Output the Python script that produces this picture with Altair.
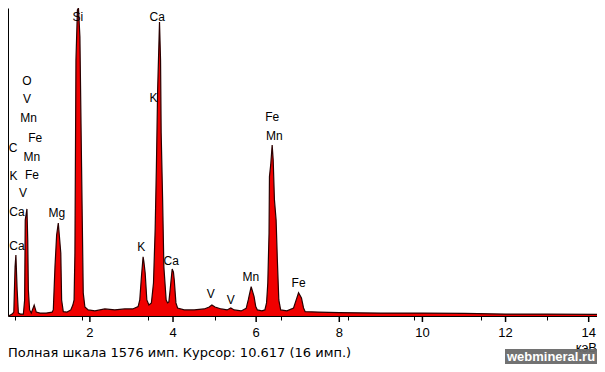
import altair as alt
import pandas as pd

# Spectrum (energy in keV, counts)
energy = [0.04, 0.13, 0.17, 0.20, 0.22, 0.25, 0.28, 0.33, 0.40, 0.43, 0.445, 0.486, 0.505, 0.52, 0.55,
          0.59, 0.66, 0.71, 0.80, 0.95, 1.09, 1.12, 1.16, 1.20, 1.24, 1.27, 1.30, 1.32, 1.36, 1.45,
          1.54, 1.59, 1.62, 1.64, 1.665, 1.70, 1.725, 1.76, 1.80, 1.84, 1.88, 1.96, 2.12, 2.36, 2.60,
          2.84, 3.03, 3.16, 3.20, 3.24, 3.28, 3.30, 3.33, 3.37, 3.42, 3.48, 3.53, 3.57, 3.60, 3.63,
          3.675, 3.70, 3.715, 3.75, 3.78, 3.835, 3.87, 3.90, 3.93, 3.98, 4.01, 4.03, 4.07, 4.11, 4.27,
          4.51, 4.75, 4.87, 4.935, 5.01, 5.16, 5.30, 5.39, 5.47, 5.64, 5.76, 5.81, 5.88, 5.95, 5.99,
          6.03, 6.14, 6.21, 6.25, 6.27, 6.28, 6.31, 6.32, 6.35, 6.385, 6.41, 6.44, 6.48, 6.51, 6.545,
          6.59, 6.74, 6.90, 6.94, 7.02, 7.09, 7.14, 7.18, 7.50, 8.00, 9.0, 10.0, 11.0, 12.0, 13.0, 14.2]
counts = [0, 10, 20, 251, 312, 133, 15, 10, 10, 82, 491, 548, 389, 133, 31,
          15, 56, 20, 15, 15, 20, 31, 251, 414, 476, 399, 322, 82, 22, 20,
          31, 56, 82, 322, 1310, 1566, 1576, 1428, 762, 118, 46, 31, 26, 36, 31,
          36, 36, 48, 82, 201, 303, 276, 220, 82, 56, 67, 169, 440, 762, 1156,
          1504, 1310, 936, 594, 251, 82, 67, 72, 133, 240, 225, 184, 67, 41, 31,
          31, 36, 46, 56, 46, 36, 31, 41, 31, 26, 39, 82, 150, 99, 48,
          31, 26, 31, 67, 133, 169, 425, 713, 773, 875, 798, 594, 491, 287, 82,
          31, 26, 41, 67, 119, 92, 41, 22, 20, 17, 15, 15, 13, 10, 10, 8]

# Peak labels
label_text = ["Si", "Ca", "K", "O", "V", "Mn", "Fe", "C", "Mn", "K", "Fe", "V", "Ca", "Mg", "Ca",
              "K", "Ca", "V", "V", "Mn", "Fe", "Mn", "Fe"]
label_e = [1.71, 3.62, 3.53, 0.486, 0.486, 0.524, 0.684, 0.151, 0.605, 0.165, 0.605, 0.39, 0.246, 1.203, 0.246,
           3.237, 3.955, 4.91, 5.39, 5.87, 6.385, 6.44, 7.02]
label_c = [1530, 1530, 1114, 1204, 1110, 1012, 912, 861, 815, 718, 721, 628, 534, 526, 358,
           352, 283, 113, 82, 201, 1020, 921, 167]

tick_values = [0.2, 0.4, 0.6, 0.8, 1.0, 1.2, 1.4, 1.6, 1.8, 2.0, 2.2, 2.4, 2.6, 2.8, 3.0, 3.2, 3.4, 3.6,
               3.8, 4.0, 4.2, 4.4, 4.6, 4.8, 5.0, 5.2, 5.4, 5.6, 5.8, 6.0, 6.2, 6.4, 6.6, 6.8, 7.0,
               7.2, 7.4, 7.6, 7.8, 8.0, 8.2, 8.4, 8.6, 8.8, 9.0, 9.2, 9.4, 9.6, 9.8, 10.0, 10.2, 10.4,
               10.6, 10.8, 11.0, 11.2, 11.4, 11.6, 11.8, 12.0, 12.2, 12.4, 12.6, 12.8, 13.0, 13.2,
               13.4, 13.6, 13.8, 14.0]
major_values = [2, 4, 6, 8, 10, 12, 14]
major_labels = ["2", "4", "6", "8", "10", "12", "14"]
footer = "Полная шкала 1576 имп. Курсор: 10.617  (16 имп.)"
unit = "кэВ"
watermark = "webmineral.ru"

FONT = "Liberation Sans"

spec = pd.DataFrame({"e": energy, "c": counts})
labels = pd.DataFrame({"t": label_text, "e": label_e, "c": label_c})
majors = pd.DataFrame({"e": major_values, "t": major_labels})

xscale = alt.Scale(domain=[0.03, 14.2], nice=False, zero=False)
yscale = alt.Scale(domain=[0, 1576], nice=False)

xaxis = alt.Axis(
    values=tick_values, labels=False,
    tickSize=4, tickColor="black", domainColor="black", grid=False, title=None,
)
yaxis = alt.Axis(ticks=False, labels=False, grid=False, title=None, domainColor="black")

area = alt.Chart(spec).mark_area(
    color="#f00000", opacity=1, interpolate="linear",
    line={"color": "#2a0000", "strokeWidth": 1.2},
).encode(
    x=alt.X("e:Q", scale=xscale, axis=xaxis),
    y=alt.Y("c:Q", scale=yscale, axis=yaxis),
)

text = alt.Chart(labels).mark_text(
    font=FONT, fontSize=12, color="black", baseline="middle", align="center"
).encode(
    x=alt.X("e:Q", scale=xscale),
    y=alt.Y("c:Q", scale=yscale),
    text="t:N",
)

# major ticks (longer) and their labels
major_ticks = alt.Chart(majors).mark_rule(color="black", strokeWidth=1.5).encode(
    x=alt.X("e:Q", scale=xscale),
    y=alt.value(308), y2=alt.value(314),
)
major_text = alt.Chart(majors).mark_text(
    font=FONT, fontSize=13, color="black", align="center", baseline="middle"
).encode(
    x=alt.X("e:Q", scale=xscale),
    y=alt.value(325),
    text="t:N",
)

one = pd.DataFrame({"f": [footer], "u": [unit], "w": [watermark]})

foot = alt.Chart(one).mark_text(
    font="DejaVu Sans", fontSize=13, color="black", align="left", baseline="middle"
).encode(x=alt.value(0), y=alt.value(345), text="f:N")

unit_t = alt.Chart(one).mark_text(
    font=FONT, fontSize=13, color="black", align="right", baseline="middle"
).encode(x=alt.value(589), y=alt.value(340), text="u:N")

box = alt.Chart(one).mark_rect(color="#6a6a6a", opacity=0.95).encode(
    x=alt.value(497), x2=alt.value(589), y=alt.value(341), y2=alt.value(356)
)
wm = alt.Chart(one).mark_text(
    font=FONT, fontSize=13, fontWeight="bold", color="white", align="center", baseline="middle"
).encode(x=alt.value(543), y=alt.value(349), text="w:N")

chart = alt.layer(area, text, major_ticks, major_text, foot, unit_t, box, wm).properties(
    width=589, height=308,
    autosize=alt.AutoSizeParams(type="none"),
    padding={"left": 0, "top": 0, "right": 0, "bottom": 48},
    background="white",
).configure_view(stroke=None)

chart.save("out.html", embed_options={"renderer": "svg", "actions": False})
